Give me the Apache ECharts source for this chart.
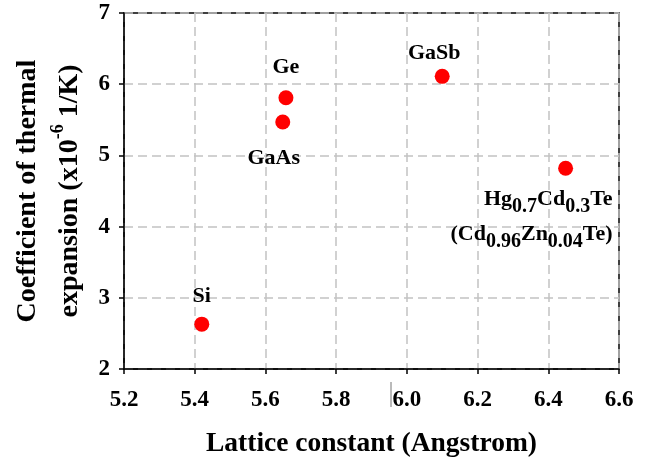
<!DOCTYPE html>
<html>
<head>
<meta charset="utf-8">
<script src="https://cdn.jsdelivr.net/npm/echarts@6/dist/echarts.min.js"></script>
<style>
html,body{margin:0;padding:0;background:#fff;}
#chart{width:647px;height:460px;}
</style>
</head>
<body>
<div id="chart"></div>
<script>
// ---- data ----
const materials = ['Si', 'Ge', 'GaAs', 'GaSb', 'HgCdTe'];
const latticeConstant = [5.42, 5.658, 5.649, 6.10, 6.449];
const thermalExpansion = [2.63, 5.81, 5.47, 6.11, 4.82];
const pointLabels = [
  '{m|Si}',
  '{m|Ge}',
  '{m|GaAs}',
  '{m|GaSb}',
  '{m|Hg}{s|0.7}{m|Cd}{s|0.3}{m|Te}\n{m|(Cd}{s|0.96}{m|Zn}{s|0.04}{m|Te)}'
];
const xMin = 5.2, xMax = 6.6, xStep = 0.2;
const yMin = 2, yMax = 7, yStep = 1;
const xTitle = 'Lattice constant (Angstrom)';
const yTitle = '{t|Coefficient of thermal}\n{t|expansion (x10}{sup|-6}{t| 1/K)}';

// ---- styles ----
const FONT = 'Liberation Serif';
const labelLayouts = [
  {offset: [0, -28]},
  {offset: [0, -30]},
  {offset: [-9, 36]},
  {offset: [-8, -23]},
  {offset: [47, 14], align: 'right', verticalAlign: 'top'}
];
const richLabel = {
  m: {fontFamily: FONT, fontWeight: 'bold', fontSize: 22, color: '#000', lineHeight: 35},
  s: {fontFamily: FONT, fontWeight: 'bold', fontSize: 20, color: '#000', lineHeight: 17, verticalAlign: 'bottom'}
};

const seriesData = materials.map((name, i) => {
  const lay = labelLayouts[i];
  return {
    name: name,
    value: [latticeConstant[i], thermalExpansion[i]],
    label: {
      show: true,
      position: 'inside',
      offset: lay.offset,
      align: lay.align || 'center',
      verticalAlign: lay.verticalAlign || 'middle',
      color: '#000',
      textBorderWidth: 0,
      textBorderColor: 'transparent',
      formatter: pointLabels[i],
      rich: richLabel
    }
  };
});

const chart = echarts.init(document.getElementById('chart'), null, {renderer: 'canvas'});
chart.setOption({
  animation: false,
  backgroundColor: '#fff',
  grid: {left: 124, right: 28, top: 13, bottom: 91, containLabel: false, outerBoundsMode: 'none',
    show: true, borderColor: '#000', borderWidth: 1.5, backgroundColor: 'transparent'},
  xAxis: {
    type: 'value', min: xMin, max: xMax, interval: xStep,
    name: xTitle, nameLocation: 'middle', nameGap: 61,
    nameTextStyle: {fontFamily: FONT, fontWeight: 'bold', fontSize: 27.5, color: '#000'},
    axisLine: {show: true, onZero: false, lineStyle: {color: '#000', width: 1.5}},
    axisTick: {show: true, length: 5, lineStyle: {color: '#000', width: 1.5}},
    axisLabel: {fontFamily: FONT, fontWeight: 'bold', fontSize: 23, color: '#000', margin: 20,
      formatter: v => v.toFixed(1)},
    splitLine: {show: true, lineStyle: {color: '#c2c2c2', width: 1.5, type: [9, 5]}}
  },
  yAxis: {
    type: 'value', min: yMin, max: yMax, interval: yStep,
    name: yTitle, nameLocation: 'middle', nameGap: 33, nameRotate: 90,
    nameTextStyle: {
      rich: {
        t: {fontFamily: FONT, fontWeight: 'bold', fontSize: 28, color: '#000', lineHeight: 42},
        sup: {fontFamily: FONT, fontWeight: 'bold', fontSize: 18, color: '#000', lineHeight: 30, verticalAlign: 'top'}
      }
    },
    axisLine: {show: true, onZero: false, lineStyle: {color: '#000', width: 1.5}},
    axisTick: {show: true, length: 5, lineStyle: {color: '#000', width: 1.5}},
    axisLabel: {fontFamily: FONT, fontWeight: 'bold', fontSize: 23, color: '#000', margin: 14},
    splitLine: {show: true, lineStyle: {color: '#c2c2c2', width: 1.5, type: [9, 5]}}
  },
  graphic: [{
    type: 'line', silent: true,
    shape: {x1: 391, y1: 382, x2: 391, y2: 407},
    style: {stroke: '#777', lineWidth: 1}
  }],
  series: [{
    type: 'scatter',
    symbol: 'circle',
    symbolSize: 15,
    itemStyle: {color: '#ff0000', opacity: 1},
    data: seriesData
  }]
});
</script>
</body>
</html>
